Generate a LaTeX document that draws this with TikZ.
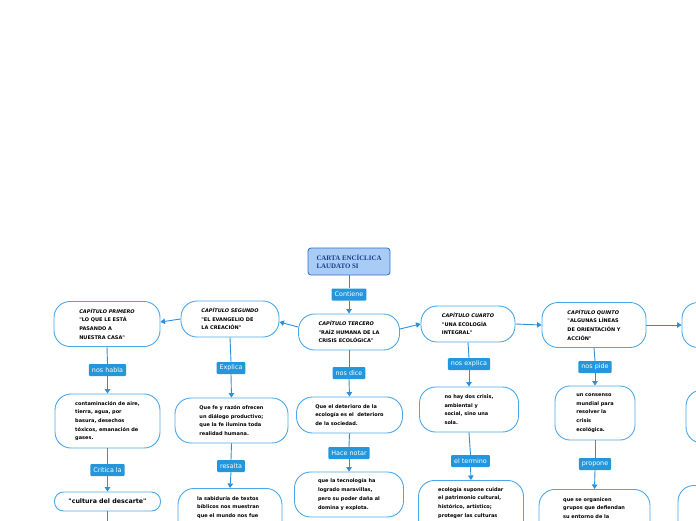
\documentclass[tikz,border=0pt]{standalone}
\usepackage{fontspec}
\setmainfont{DejaVu Sans}[Ligatures=TeXOff]
\newfontfamily\titlefont{Liberation Serif}
\usetikzlibrary{arrows.meta}
\definecolor{lineblue}{HTML}{2E90D8}
\definecolor{boxblue}{HTML}{4AA8EA}
\definecolor{labelblue}{HTML}{2497DC}
\definecolor{titlefill}{HTML}{A9CCF6}
\definecolor{titledraw}{HTML}{2D6FD0}
\definecolor{titletext}{HTML}{173C8C}
\begin{document}
\begin{tikzpicture}[x=1pt,y=-1pt,
  box/.style={draw=boxblue, line width=0.9pt, fill=white, rounded corners=16pt,
    font=\bfseries\fontsize{5}{8.7}\selectfont, align=left, inner sep=0pt},
  txt/.style={font=\bfseries\fontsize{5}{8.7}\selectfont, align=left, inner sep=0pt},
  lbl/.style={fill=labelblue, text=white, font=\fontsize{6.4}{7}\selectfont,
    inner xsep=3pt, inner ysep=0pt, minimum height=12pt, rounded corners=1pt},
  conn/.style={draw=lineblue, line width=0.9pt},
  arr/.style={conn, -{Triangle[width=5.5pt,length=4.5pt]}}]
\useasboundingbox (0,0) rectangle (696,520);
\clip (0,0) rectangle (696,520);
\fill[white] (0,0) rectangle (696,520);

% title
\node[draw=titledraw, fill=titlefill, line width=0.8pt, rounded corners=3pt,
  minimum width=82pt, minimum height=27pt, align=left, inner sep=0pt,
  text=titletext, font=\titlefont\bfseries\fontsize{6.9}{8.5}\selectfont]
  (title) at (349,261.5) {CARTA ENCÍCLICA\\LAUDATO SI};

% chapters
\node[box, minimum width=101pt, minimum height=36pt] (ter) at (349,332)
  {\textit{CAPÍTULO TERCERO}\\"RAÍZ HUMANA DE LA\\CRISIS ECOLÓGICA"};
\node[box, minimum width=98pt, minimum height=36pt] (seg) at (230,319)
  {\textit{CAPÍTULO SEGUNDO}\\"EL EVANGELIO DE\\LA CREACIÓN"};
\node[box, minimum width=106pt, minimum height=45pt] (pri) at (107,324)
  {\textit{CAPÍTULO PRIMERO}\\"LO QUE LE ESTÁ\\PASANDO A\\NUESTRA CASA"};
\node[box, minimum width=94pt, minimum height=36pt] (cua) at (468,324)
  {\textit{CAPÍTULO CUARTO}\\"UNA ECOLOGÍA\\INTEGRAL"};
\node[box, minimum width=104pt, minimum height=45pt] (qui) at (594,325)
  {\textit{CAPÍTULO QUINTO}\\"ALGUNAS LÍNEAS\\DE ORIENTACIÓN Y\\ACCIÓN"};
\node[box, minimum width=104pt, minimum height=45pt] (sex) at (734,325) {};

% column 1
\node[box, minimum width=105pt, minimum height=54pt] (pri2) at (107.5,421)
  {contaminación de aire,\\tierra, agua, por\\basura, desechos\\tóxicos, emanación de\\gases.};
\node[box, rounded corners=9pt, minimum width=106pt, minimum height=19pt,
  font=\bfseries\fontsize{6.3}{7}\selectfont] (pri3) at (107.5,501.5) {"cultura del descarte"};
\coordinate (pri4) at (107.5,530);
\node[lbl] (l1) at (107.5,370) {nos habla};
\node[lbl] (l2) at (107.5,470) {Critica la};

% column 2
\node[box, minimum width=113pt, minimum height=45pt] (seg2) at (231.5,420.5)
  {Que fe y razón ofrecen\\un diálogo productivo;\\que la fe ilumina toda\\realidad humana.};
\node[box, minimum width=104pt, minimum height=80pt, anchor=north] (seg3) at (230,488) {};
\node[txt, anchor=north west] at (197,496)
  {la sabiduría de textos\\bíblicos nos muestran\\que el mundo nos fue};
\node[lbl] (l3) at (231,368) {Explica};
\node[lbl] (l4) at (231,466) {resalta};

% column 3
\node[box, minimum width=106pt, minimum height=36pt] (ter2) at (349.5,415)
  {Que el deterioro de la\\ecología es el \ deterioro\\de la sociedad.};
\node[box, minimum width=109pt, minimum height=45pt] (ter3) at (349,494.5)
  {que la tecnología ha\\logrado maravillas,\\pero su poder daña al\\domina y explota.};
\node[lbl] (l5) at (349,373) {nos dice};
\node[lbl] (l6) at (349,453) {Hace notar};

% column 4
\node[box, minimum width=99pt, minimum height=45pt] (cua2) at (469,409.5)
  {no hay dos crisis,\\ambiental y\\social, sino una\\sola.};
\node[box, minimum width=105pt, minimum height=80pt, anchor=north] (cua3) at (471,480) {};
\node[txt, anchor=north west] at (438,487)
  {ecología supone cuidar\\el patrimonio cultural,\\histórico, artístico;\\proteger las culturas};
\node[lbl] (l7) at (469,364) {nos explica};
\node[lbl] (l8) at (470.5,461) {el termino};

% column 5
\node[box, rounded corners=15pt, minimum width=80pt, minimum height=54pt] (qui2) at (595,413)
  {un consenso\\mundial para\\resolver la\\crisis\\ecológica.};
\node[box, minimum width=111pt, minimum height=80pt, anchor=north] (qui3) at (594.5,489) {};
\node[txt, anchor=north west] at (563,497)
  {que se organicen\\grupos que defiendan\\su entorno de la};
\node[lbl] (l9) at (595,367) {nos pide};
\node[lbl] (l10) at (595,464) {propone};

% column 6 (cut off)
\node[box, minimum width=104pt, minimum height=53pt] (sex2) at (738,416.5) {};
\node[box, minimum width=112pt, minimum height=80pt, anchor=north] (sex3) at (734,485) {};

% connectors
\node[lbl] (l0) at (349,294.5) {Contiene};
\draw[conn] (title.south) -- (l0.north);
\draw[arr] (l0.south) -- (ter.north);

\draw[arr] ([yshift=5pt]ter.west) -- ([yshift=-3pt]seg.east);
\draw[arr] (seg.west) -- ([yshift=2pt]pri.east);
\draw[arr] ([yshift=3pt]ter.east) -- (cua.west);
\draw[arr] (cua.east) -- (qui.west);
\draw[arr] (qui.east) -- (sex.west);

\draw[conn] (pri.south) -- (l1.north);
\draw[arr] (l1.south) -- (pri2.north);
\draw[conn] (pri2.south) -- (l2.north);
\draw[arr] (l2.south) -- (pri3.north);
\draw[conn] (pri3.south) -- (pri4);

\draw[conn] (seg.south) -- (l3.north);
\draw[arr] (l3.south) -- (seg2.north);
\draw[conn] (seg2.south) -- (l4.north);
\draw[arr] (l4.south) -- (seg3.north);

\draw[conn] (ter.south) -- (l5.north);
\draw[arr] (l5.south) -- (ter2.north);
\draw[conn] (ter2.south) -- (l6.north);
\draw[arr] (l6.south) -- (ter3.north);

\draw[conn] (cua.south) -- (l7.north);
\draw[arr] (l7.south) -- (cua2.north);
\draw[conn] (cua2.south) -- (l8.north);
\draw[arr] (l8.south) -- (cua3.north);

\draw[conn] (qui.south) -- (l9.north);
\draw[arr] (l9.south) -- (qui2.north);
\draw[conn] (qui2.south) -- (l10.north);
\draw[arr] (l10.south) -- (qui3.north);
\end{tikzpicture}
\end{document}
